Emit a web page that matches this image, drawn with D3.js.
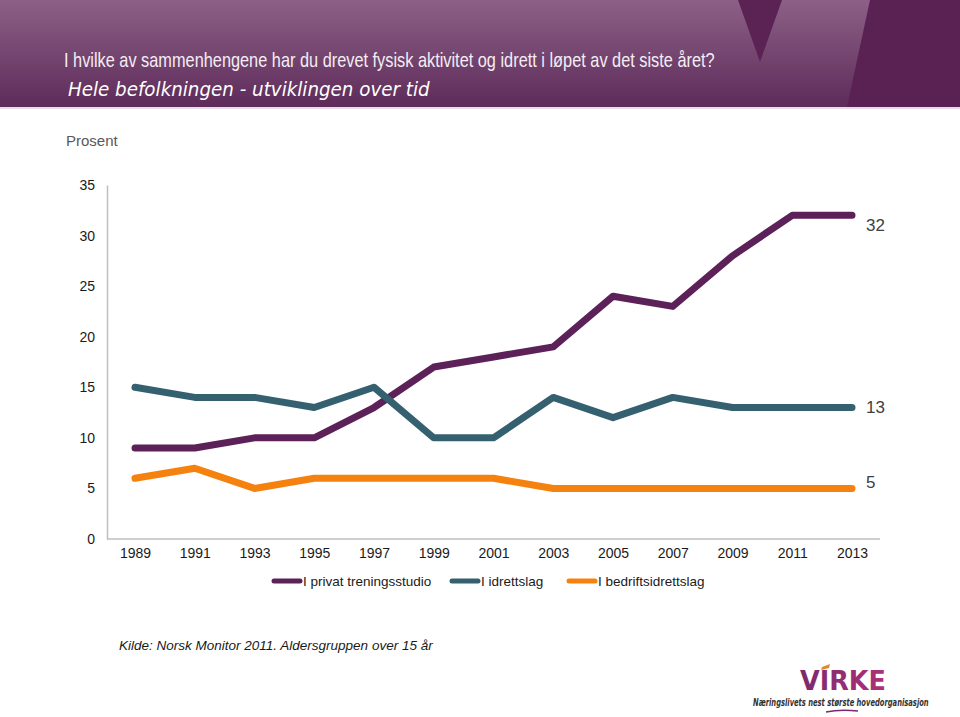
<!DOCTYPE html>
<html><head><meta charset="utf-8">
<script src="https://cdn.jsdelivr.net/npm/d3@7"></script>
<style>body{margin:0;background:#fff}svg{display:block}</style>
</head><body>
<script>
const years = ["1989","1991","1993","1995","1997","1999","2001","2003","2005","2007","2009","2011","2013"];
const seriesNames = ["I privat treningsstudio","I idrettslag","I bedriftsidrettslag"];
const privat = [9,9,10,10,13,17,18,19,24,23,28,32,32];
const idrettslag = [15,14,14,13,15,10,10,14,12,14,13,13,13];
const bedrift = [6,7,5,6,6,6,6,5,5,5,5,5,5];
const yTicks = [0,5,10,15,20,25,30,35];
const colors = ["#5c2158","#35606f","#f5820f"];
const series = [privat, idrettslag, bedrift];

const W = 960, H = 717;
const svg = d3.select("body").append("svg").attr("width", W).attr("height", H);
const defs = svg.append("defs");
const g1 = defs.append("linearGradient").attr("id","hdr").attr("x1",0).attr("y1",0).attr("x2",0).attr("y2",1);
g1.append("stop").attr("offset","0%").attr("stop-color","#8c6186");
g1.append("stop").attr("offset","100%").attr("stop-color","#5e2b5a");
const g2 = defs.append("linearGradient").attr("id","virke").attr("x1",0).attr("y1",0).attr("x2",1).attr("y2",0);
g2.append("stop").attr("offset","0%").attr("stop-color","#7a2a6e");
g2.append("stop").attr("offset","100%").attr("stop-color","#b0307a");

// fit a text horizontally to a width using a transform
function fitWidth(sel, x0, y0, width) {
  const w = sel.node().getComputedTextLength();
  const s = width / w;
  sel.attr("transform", `translate(${x0},${y0}) scale(${s},1) translate(${-x0},${-y0})`);
}

// header
svg.append("rect").attr("x",0).attr("y",0).attr("width",W).attr("height",107).attr("fill","url(#hdr)");
svg.append("path").attr("d","M738,0 L782,0 L760,62 Z").attr("fill","#5a2354");
svg.append("path").attr("d","M870,0 L960,0 L960,107 L847,107 Z").attr("fill","#5a2253");
svg.append("rect").attr("x",0).attr("y",107).attr("width",W).attr("height",2).attr("fill","#e8dde6");
const title = svg.append("text").attr("x",64).attr("y",67).attr("fill","#f4eef4")
  .style("font-family","Liberation Sans, Arial, sans-serif").style("font-size","20px")
  .text("I hvilke av sammenhengene har du drevet fysisk aktivitet og idrett i løpet av det siste året?");
fitWidth(title, 64, 67, 651);
const sub = svg.append("text").attr("x",68).attr("y",96).attr("fill","#ffffff")
  .style("font-family","DejaVu Sans Condensed, DejaVu Sans, sans-serif").style("font-size","19px")
  .style("font-style","italic")
  .text("Hele befolkningen - utviklingen over tid");
fitWidth(sub, 68, 96, 362);

// chart
const x = d3.scalePoint().domain(years).range([135, 852]);
const y = d3.scaleLinear().domain([0,35]).range([539,185]);
const font = "Liberation Sans, Arial, sans-serif";

svg.append("text").attr("x",66).attr("y",146).attr("fill","#595959")
  .style("font-family",font).style("font-size","15px").text("Prosent");

const yAxis = svg.append("g").attr("transform","translate(107,0)")
  .call(d3.axisLeft(y).tickValues(yTicks).tickSize(0).tickPadding(12));
yAxis.select(".domain").attr("stroke","#bfbfbf").attr("stroke-width",1.5);
yAxis.selectAll("text").style("font-family",font).style("font-size","14px").attr("fill","#1a1a1a");

const xAxis = svg.append("g").attr("transform","translate(0,539)")
  .call(d3.axisBottom(x).tickSize(0).tickPadding(9));
xAxis.select(".domain").attr("d","M107,0H880").attr("stroke","#bfbfbf").attr("stroke-width",1.5);
xAxis.selectAll("text").style("font-family",font).style("font-size","14px").attr("fill","#1a1a1a");

const line = d3.line().x((d,i)=>x(years[i])).y(d=>y(d));
series.forEach((s,k)=>{
  svg.append("path").attr("d",line(s)).attr("fill","none").attr("stroke",colors[k])
    .attr("stroke-width",7).attr("stroke-linecap","round").attr("stroke-linejoin","round");
});
// end labels
const endOffsets = [10, 0, -6];
series.forEach((s,k)=>{
  svg.append("text").attr("x",866).attr("y",y(s[s.length-1]) + endOffsets[k]).attr("dy","0.35em")
    .attr("fill","#404040").style("font-family",font).style("font-size","17px").text(s[s.length-1]);
});

// legend
const legX = [272, 450, 567];
seriesNames.forEach((n,k)=>{
  const gL = svg.append("g");
  gL.append("line").attr("x1",legX[k]+2).attr("x2",legX[k]+28).attr("y1",581).attr("y2",581)
    .attr("stroke",colors[k]).attr("stroke-width",5).attr("stroke-linecap","round");
  gL.append("text").attr("x",legX[k]+31).attr("y",581).attr("dy","0.35em").attr("fill","#1a1a1a")
    .style("font-family",font).style("font-size","13.5px").text(n);
});

// source
svg.append("text").attr("x",119).attr("y",650).attr("fill","#1a1a1a")
  .style("font-family",font).style("font-size","13.5px").style("font-style","italic")
  .text("Kilde: Norsk Monitor 2011. Aldersgruppen over 15 år");

// logo
svg.append("path").attr("d","M822,667 L830,664 L829,668 L821,670 Z").attr("fill","#e08a2a");
const virke = svg.append("text").attr("x",800).attr("y",690).attr("fill","url(#virke)")
  .style("font-family","DejaVu Sans, sans-serif").style("font-size","27px").style("font-weight","bold")
  .text("VIRKE");
fitWidth(virke, 800, 690, 86);
const tag = svg.append("text").attr("x",753).attr("y",706).attr("fill","#333")
  .style("font-family","DejaVu Sans Condensed, DejaVu Sans, sans-serif").style("font-size","10px")
  .style("font-style","italic").style("font-weight","bold")
  .text("Næringslivets nest største hovedorganisasjon");
fitWidth(tag, 753, 706, 176);
svg.append("path").attr("d","M826,712 Q840,709 858,711").attr("fill","none").attr("stroke","#7a2a6e").attr("stroke-width",1.5);
</script>
</body></html>
